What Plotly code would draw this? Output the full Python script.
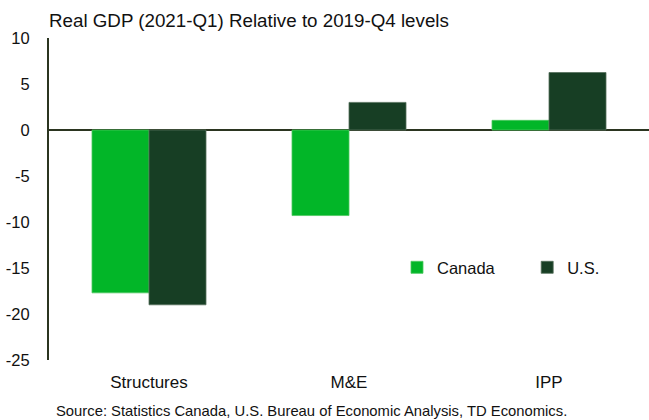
import plotly.graph_objects as go

categories = ["Structures", "M&E", "IPP"]
canada = [-17.7, -9.3, 1.05]
us = [-19.0, 3.0, 6.25]
y_ticks = [10, 5, 0, -5, -10, -15, -20, -25]
y_tick_labels = ["10", "5", "0", "-5", "-10", "-15", "-20", "-25"]

title_text = "Real GDP (2021-Q1) Relative to 2019-Q4 levels"
source_text = "Source: Statistics Canada, U.S. Bureau of Economic Analysis, TD Economics."

FONT = "Liberation Sans, Arial, sans-serif"
C_CAN = "#02B628"
C_US = "#173E24"

fig = go.Figure()
fig.add_trace(go.Bar(x=categories, y=canada, name="Canada", legend="legend",
                     marker=dict(color=C_CAN, line=dict(color="#4cc85e", width=0.8))))
fig.add_trace(go.Bar(x=categories, y=us, name="U.S.", legend="legend2",
                     marker=dict(color=C_US, line=dict(color="#55705c", width=0.8))))

leg_common = dict(orientation="h", yanchor="middle", xanchor="left",
                  font=dict(size=16.5), itemwidth=30, bgcolor="rgba(0,0,0,0)")

fig.update_layout(
    width=649, height=420,
    margin=dict(l=49, r=0, t=38, b=60),
    paper_bgcolor="white", plot_bgcolor="white",
    font=dict(family=FONT, color="#111111", size=16),
    barmode="group", bargap=0.43, bargroupgap=0,
    showlegend=True,
    legend=dict(x=0.58, y=0.287, **leg_common),
    legend2=dict(x=0.797, y=0.287, **leg_common),
    title=dict(text=title_text, x=49/649, xanchor="left", y=0.952, yanchor="middle",
               font=dict(size=18.75, family=FONT, color="#111111")),
    annotations=[dict(text=source_text, xref="paper", yref="paper", x=0.438, y=-0.158,
                      xanchor="center", yanchor="middle", showarrow=False,
                      font=dict(size=14.8, family=FONT, color="#111111"))],
)
fig.update_xaxes(showline=False, ticks="", showgrid=False, zeroline=False,
                 tickfont=dict(size=17), ticklabelstandoff=10)
fig.update_yaxes(range=[-25, 10], tickvals=y_ticks, ticktext=y_tick_labels, showgrid=False,
                 showline=True, linecolor="#2b3520", linewidth=2,
                 zeroline=True, zerolinecolor="#2b3520", zerolinewidth=2,
                 ticks="", tickfont=dict(size=16.5), ticklabelstandoff=14)

fig.write_html("out.html")
